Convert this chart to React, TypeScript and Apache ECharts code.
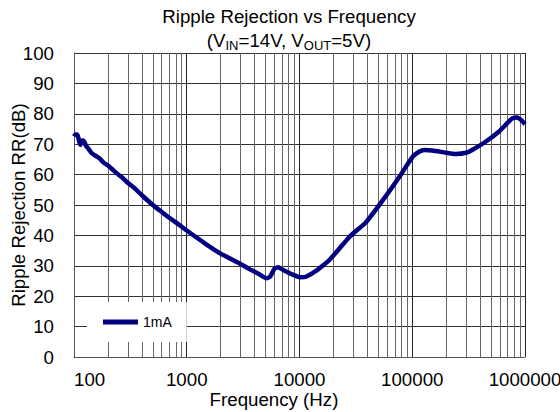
import React, { useEffect, useRef } from "react";
import * as echarts from "echarts";

const FONT = '"Liberation Sans", Arial, sans-serif';

const titleLine1 = "Ripple Rejection vs Frequency";
const titleLine2 = "(V{sub|IN}=14V, V{sub|OUT}=5V)";
const xAxisName = "Frequency (Hz)";
const yAxisName = "Ripple Rejection RR(dB)";
const seriesName = "1mA";

const freqHz = [
  100, 103, 107, 111, 114, 118, 122, 128, 135, 143,
  155, 168, 176, 185, 200, 215, 240, 270, 300, 350,
  400, 500, 600, 700, 800, 1000, 1500, 2000, 3000, 3600,
  4500, 5100, 5500, 6000, 6500, 7100, 8700, 10300, 11400, 14000,
  16000, 18400, 22500, 27600, 32000, 38600, 54900, 77000, 101000, 115000,
  128000, 151000, 200000, 243000, 300000, 340000, 447000, 585000, 700000, 769000,
  850000, 920000, 1000000,
];
const rrDb = [
  72.6, 73.2, 73.2, 71.0, 69.8, 71.2, 71.0, 69.5, 68.4, 67.1,
  66.2, 65.4, 64.6, 63.8, 63.0, 62.0, 60.4, 58.9, 57.3, 55.3,
  53.2, 50.0, 47.7, 45.8, 44.3, 41.6, 37.0, 34.0, 30.6, 28.9,
  27.0, 25.9, 26.5, 29.0, 29.5, 28.7, 27.1, 26.2, 26.4, 28.3,
  30.0, 31.9, 35.6, 39.4, 41.6, 44.2, 51.6, 59.3, 65.9, 67.5,
  68.1, 67.9, 67.2, 66.8, 67.2, 68.1, 70.8, 74.1, 77.0, 78.5,
  78.8, 78.0, 76.6,
];

const xMin = 100;
const xMax = 1000000;
const yMin = 0;
const yMax = 100;
const yStep = 10;

const minorGridFreqs = [
  200, 300, 400, 500, 600, 700, 800, 900,
  2000, 3000, 4000, 5000, 6000, 7000, 8000, 9000,
  20000, 30000, 40000, 50000, 60000, 70000, 80000, 90000,
  200000, 300000, 400000, 500000, 600000, 700000, 800000, 900000,
];

export default function App() {
  const ref = useRef<HTMLDivElement>(null);

  useEffect(() => {
    if (!ref.current) return;
    const chart = echarts.init(ref.current, null, { renderer: "svg" });
    chart.setOption({
      animation: false,
      backgroundColor: "#fff",
      textStyle: { fontFamily: FONT },
      grid: {
        left: 74,
        top: 53,
        width: 451,
        height: 304,
        containLabel: false,
        outerBoundsMode: "none",
      },
      graphic: [
        {
          type: "text",
          x: 289,
          y: 16,
          style: {
            text: titleLine1,
            fontSize: 18.7,
            fontFamily: FONT,
            fill: "#000",
            align: "center",
            verticalAlign: "middle",
          },
        },
        {
          type: "text",
          x: 289,
          y: 40,
          style: {
            text: titleLine2,
            fontSize: 18.7,
            fontFamily: FONT,
            fill: "#000",
            align: "center",
            verticalAlign: "middle",
            lineHeight: 24,
            rich: {
              sub: {
                fontSize: 13,
                fontFamily: FONT,
                fill: "#000",
                verticalAlign: "bottom",
              },
            },
          },
        },
      ],
      legend: {
        data: [seriesName],
        left: 87,
        top: 302,
        backgroundColor: "#fff",
        padding: [13, 15, 13, 16],
        icon: "rect",
        itemWidth: 35,
        itemHeight: 5,
        itemGap: 0,
        textStyle: { fontSize: 14, color: "#000", fontFamily: FONT },
        z: 6,
      },
      xAxis: {
        type: "log",
        logBase: 10,
        min: xMin,
        max: xMax,
        name: xAxisName,
        nameLocation: "middle",
        nameGap: 33,
        nameMoveOverlap: false,
        nameTextStyle: {
          fontSize: 18.7,
          color: "#000",
          fontFamily: FONT,
          padding: [0, 51, 0, 0],
        },
        axisLine: { show: true, lineStyle: { color: "#555", width: 1 } },
        axisTick: { show: false },
        axisLabel: {
          fontSize: 18.7,
          color: "#000",
          fontFamily: FONT,
          margin: 13,
          alignMinLabel: "left",
          hideOverlap: false,
          formatter: (v: number) => String(Math.round(v)),
        },
        splitLine: { show: true, lineStyle: { color: "#222", width: 1 } },
      },
      yAxis: {
        type: "value",
        min: yMin,
        max: yMax,
        interval: yStep,
        name: yAxisName,
        nameLocation: "middle",
        nameGap: 46,
        nameMoveOverlap: false,
        nameTextStyle: { fontSize: 18.7, color: "#000", fontFamily: FONT },
        axisLine: { show: true, lineStyle: { color: "#555", width: 1 } },
        axisTick: { show: false },
        axisLabel: { fontSize: 18.7, color: "#000", fontFamily: FONT, margin: 20 },
        splitLine: { show: true, lineStyle: { color: "#333", width: 1 } },
      },
      series: [
        {
          name: seriesName,
          type: "line",
          z: 3,
          data: freqHz.map((f, i) => [f, rrDb[i]]),
          showSymbol: false,
          symbol: "none",
          smooth: 0.2,
          lineStyle: { color: "#000080", width: 4.5 },
          itemStyle: { color: "#000080" },
          emphasis: { disabled: true },
          markLine: {
            silent: true,
            z: 1,
            symbol: ["none", "none"],
            label: { show: false },
            emphasis: { disabled: true },
            lineStyle: { color: "#666", width: 1, type: "solid" },
            data: minorGridFreqs.map((f) => ({ xAxis: f })),
            animation: false,
          },
        },
      ],
    });
    return () => chart.dispose();
  }, []);

  return (
    <div
      ref={ref}
      style={{ position: "fixed", left: 0, top: 0, width: 560, height: 412 }}
    />
  );
}
